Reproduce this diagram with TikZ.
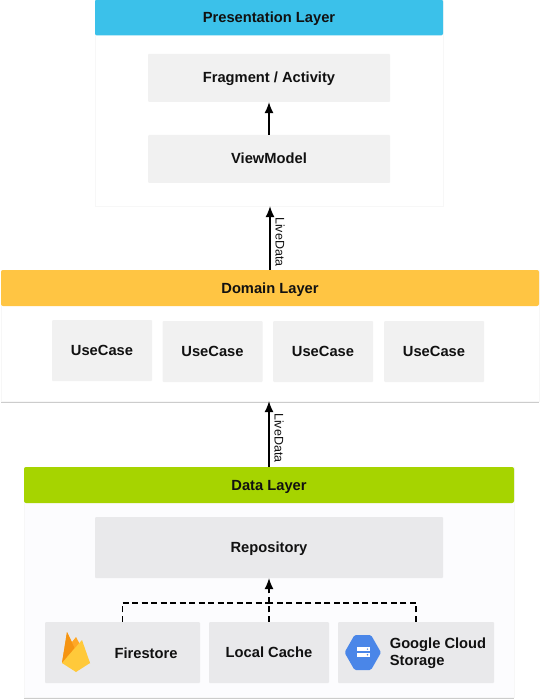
\documentclass[tikz,border=0pt]{standalone}
\usepackage{fontspec}
\setmainfont{Liberation Sans}
\usepackage{xcolor}
\usetikzlibrary{arrows.meta,shadows}
\definecolor{presblue}{HTML}{3BC1EA}
\definecolor{domainamber}{HTML}{FFC543}
\definecolor{datagreen}{HTML}{A6D400}
\definecolor{boxgrey}{HTML}{F1F1F1}
\definecolor{databox}{HTML}{E9E9EB}
\definecolor{datapanel}{HTML}{FCFCFE}
\definecolor{inktext}{HTML}{111111}
\definecolor{flameback}{HTML}{FFA726}
\definecolor{flamedark}{HTML}{F59412}
\definecolor{flamefront}{HTML}{FFC93A}
\definecolor{cloudblue}{HTML}{4A86E8}
\begin{document}
\begin{tikzpicture}[
    x=1pt, y=-1pt,
    panel/.style={rectangle, draw=black!3, fill=white, minimum width=#1, inner sep=0pt,
      drop shadow={shadow xshift=0pt, shadow yshift=-1.5pt, opacity=0.2, fill=black}},
    head/.style={rectangle, rounded corners=2pt, minimum width=#1, minimum height=36pt,
      inner sep=0pt, text height=10pt, text depth=0pt,
      font=\fontsize{14.7}{17}\selectfont\bfseries, text=inktext},
    box/.style={rectangle, fill=boxgrey, rounded corners=1pt, inner sep=0pt, align=center,
      text height=10pt, text depth=0pt,
      font=\fontsize{14.7}{17}\selectfont\bfseries, text=inktext, minimum width=#1},
    arrow/.style={-{Latex[length=11pt,width=9pt]}, line width=1.1pt, black},
    flow/.style={dashed, dash pattern=on 6pt off 3.5pt, line width=1.1pt, black},
    tag/.style={font=\fontsize{12.5}{14}\selectfont, rotate=-90, anchor=south, text=inktext,
      inner xsep=0pt, inner ysep=5pt}
  ]
    \useasboundingbox (0,0) rectangle (540,700);
    % presentation layer
    \node[panel=348pt, minimum height=206pt] (presentation) at (269,103) {};
    \node[head=348pt, fill=presblue] (preshead) at (269,17.5) {Presentation Layer};
    \node[box=242pt, minimum height=48pt] (fragment) at (269,78) {Fragment / Activity};
    \node[box=242pt, minimum height=48pt] (viewmodel) at (269,159) {ViewModel};
    % domain layer
    \node[panel=538pt, minimum height=131pt] (domain) at (270,335.5) {};
    \node[head=538pt, fill=domainamber] (domainhead) at (270,288) {Domain Layer};
    \node[box=100pt, minimum height=61pt] (usecasea) at (102,350.5) {UseCase};
    \node[box=100pt, minimum height=61pt] (usecaseb) at (212.5,351.5) {UseCase};
    \node[box=100pt, minimum height=61pt] (usecasec) at (323,351.5) {UseCase};
    \node[box=100pt, minimum height=61pt] (usecased) at (434,351.5) {UseCase};
    % data layer
    \node[panel=490pt, minimum height=230pt, fill=datapanel] (data) at (269,582) {};
    \node[head=490pt, fill=datagreen] (datahead) at (269,485) {Data Layer};
    \node[box=348pt, minimum height=61pt, fill=databox] (repository) at (269,547.5) {Repository};
    \node[box=155pt, minimum height=61pt, fill=databox] (firestore) at (122.5,652.5) {};
    \node[box=120pt, minimum height=61pt, fill=databox] (cache) at (269,652.5) {Local Cache};
    \node[box=156pt, minimum height=61pt, fill=databox] (storage) at (416,652.5) {};
    \node[font=\fontsize{14.7}{17}\selectfont\bfseries, text=inktext, inner sep=0pt] (firestorelabel) at (146,653) {Firestore};
    \node[font=\fontsize{14.7}{17}\selectfont\bfseries, text=inktext, align=left, inner sep=0pt] (storagelabel) at (438,653.5) {Google Cloud\\Storage};
    % firebase flame
    \fill[flameback] (62,663) -- (67,632) -- (72,642) -- (76,637) -- (90,663) -- cycle;
    \fill[flamedark] (62,663) -- (67,632) -- (74.5,648) -- cycle;
    \fill[flamefront] (62,663) -- (82,640) -- (90,663) -- (76,672) -- cycle;
    % cloud storage hexagon
    \fill[cloudblue, rounded corners=1.5pt] (344.5,652.5) -- (354.5,635) -- (371,635) -- (381,652.5) -- (371,670) -- (354.5,670) -- cycle;
    \fill[white] (356.5,647) rectangle (370,651.2);
    \fill[white] (356.5,652.6) rectangle (370,656.8);
    \fill[cloudblue] (367.5,649.1) circle (0.8);
    \fill[cloudblue] (367.5,654.7) circle (0.8);
    % connectors
    \draw[arrow] (viewmodel) -- (fragment);
    \draw[arrow] (domainhead.north) -- (domainhead.north |- presentation.south)
      node[tag, pos=0.44] (tagupper) {LiveData};
    \draw[arrow] (datahead.north) -- (datahead.north |- domain.south)
      node[tag, pos=0.44] (taglower) {LiveData};
    \coordinate (junction) at (269,603);
    \draw[flow] (firestore.north) |- (junction);
    \draw[flow] (storage.north) |- (junction);
    \draw[flow] (cache.north) -- (junction) -- (269,590);
    \draw[arrow] (269,590) -- (repository.south);
  \end{tikzpicture}
\end{document}
